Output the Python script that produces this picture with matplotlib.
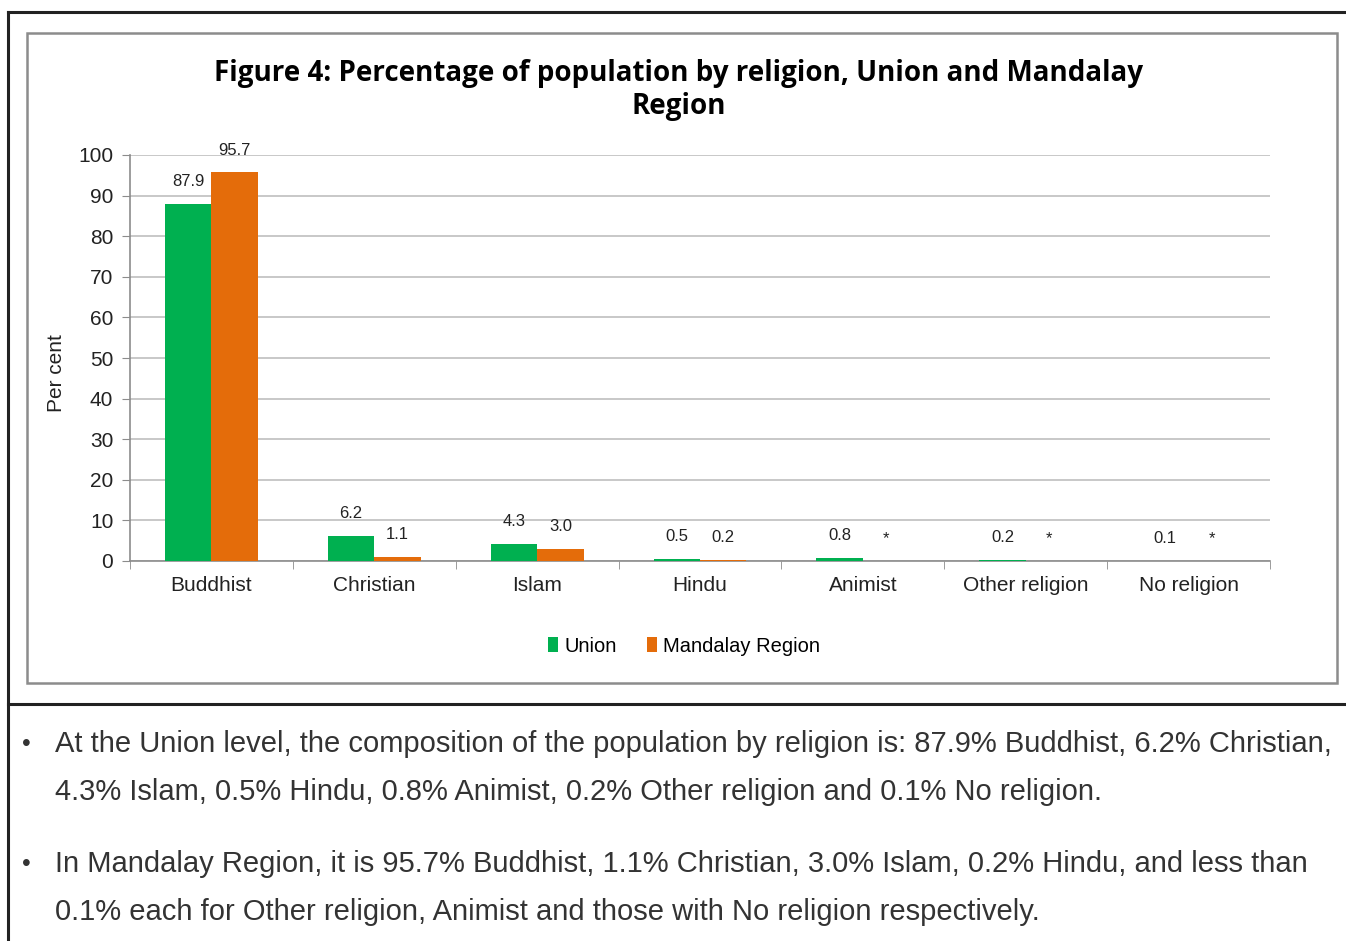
import matplotlib
matplotlib.use("Agg")
import matplotlib.pyplot as plt
from matplotlib.patches import Rectangle
from matplotlib.lines import Line2D
import numpy as np

categories = ["Buddhist", "Christian", "Islam", "Hindu", "Animist",
              "Other religion", "No religion"]
union = [87.9, 6.2, 4.3, 0.5, 0.8, 0.2, 0.1]
mandalay = [95.7, 1.1, 3.0, 0.2, 0.0, 0.0, 0.0]
mandalay_labels = ["95.7", "1.1", "3.0", "0.2", "*", "*", "*"]
yticks = list(range(0, 101, 10))

bullets = [
    ("At the Union level, the composition of the population by religion is: 87.9% Buddhist, 6.2% Christian,",
     "4.3% Islam, 0.5% Hindu, 0.8% Animist, 0.2% Other religion and 0.1% No religion."),
    ("In Mandalay Region, it is 95.7% Buddhist, 1.1% Christian, 3.0% Islam, 0.2% Hindu, and less than",
     "0.1% each for Other religion, Animist and those with No religion respectively."),
]

GREEN = "#00B050"
ORANGE = "#E46C0A"
W, H = 1346, 941

plt.rcParams["font.family"] = ["Liberation Sans", "DejaVu Sans"]
fig = plt.figure(figsize=(W / 100, H / 100), dpi=100)


def fx(x):
    return x / W


def fy(y):
    return 1 - y / H


# page frame lines
for (x0, y0, x1, y1) in [(8, 12, W, 12), (8, 12, 8, H), (8, 704, W, 704)]:
    fig.add_artist(Line2D([fx(x0), fx(x1)], [fy(y0), fy(y1)],
                          color="#222222", lw=2.2, transform=fig.transFigure))

# chart box
fig.add_artist(Rectangle((fx(27), fy(683)), fx(1337) - fx(27), fy(33) - fy(683),
                         fill=False, edgecolor="#8C8C8C", lw=1.8,
                         transform=fig.transFigure))

ax = fig.add_axes([fx(130), fy(561), fx(1270) - fx(130), fy(155) - fy(561)])
x = np.arange(len(categories))
bw = 0.285
ax.bar(x - bw / 2, union, bw, color=GREEN, label="Union", zorder=3)
ax.bar(x + bw / 2, mandalay, bw, color=ORANGE, label="Mandalay Region", zorder=3)

for i, v in enumerate(union):
    ax.text(x[i] - bw / 2, v + 5.5, f"{v:.1f}", ha="center", va="center",
            fontsize=12, color="#222222")
for i, (v, lab) in enumerate(zip(mandalay, mandalay_labels)):
    ax.text(x[i] + bw / 2, v + 5.5, lab, ha="center", va="center",
            fontsize=12, color="#222222")

ax.set_xlim(-0.5, len(categories) - 0.5)
ax.set_ylim(0, 100)
ax.set_yticks(yticks)
ax.set_yticklabels([str(t) for t in yticks], fontsize=15)
ax.yaxis.grid(True, color="#BFBFBF", lw=1.2, zorder=0)
ax.set_xticks(x)
ax.set_xticklabels(categories, fontsize=15, color="#222222")
ax.tick_params(axis="x", length=0, pad=11)
ax.set_xticks(np.arange(-0.5, len(categories), 1), minor=True)
ax.tick_params(axis="x", which="minor", length=6, color="#8C8C8C", direction="out")
ax.tick_params(axis="y", length=6, color="#8C8C8C", pad=6, labelcolor="#222222")
for s in ["top", "right"]:
    ax.spines[s].set_visible(False)
for s in ["left", "bottom"]:
    ax.spines[s].set_color("#8C8C8C")
    ax.spines[s].set_linewidth(1.2)

fig.text(fx(57), fy(373), "Per cent", rotation=90, ha="center", va="center",
         fontsize=15, color="#222222")

fig.text(fx(679), fy(90), "Figure 4: Percentage of population by religion, Union and Mandalay\nRegion",
         ha="center", va="center", fontsize=20, fontweight="bold",
         family=["Open Sans", "DejaVu Sans"], linespacing=1.15)

ax.legend(loc="center", bbox_to_anchor=(fx(684), fy(646)),
          bbox_transform=fig.transFigure, ncol=2, frameon=False,
          fontsize=14.5, handlelength=0.5, handleheight=0.7,
          handletextpad=0.3, columnspacing=1.5)

# bullet text
line_y = [744, 792, 864, 912]
k = 0
for first, second in bullets:
    fig.text(fx(22), fy(line_y[k]), "\u2022", ha="left", va="center", fontsize=18,
             color="#333333")
    fig.text(fx(55), fy(line_y[k]), first, ha="left", va="center", fontsize=21,
             color="#333333")
    fig.text(fx(55), fy(line_y[k + 1]), second, ha="left", va="center", fontsize=21,
             color="#333333")
    k += 2

fig.savefig("out.png", dpi=100, facecolor="white")
